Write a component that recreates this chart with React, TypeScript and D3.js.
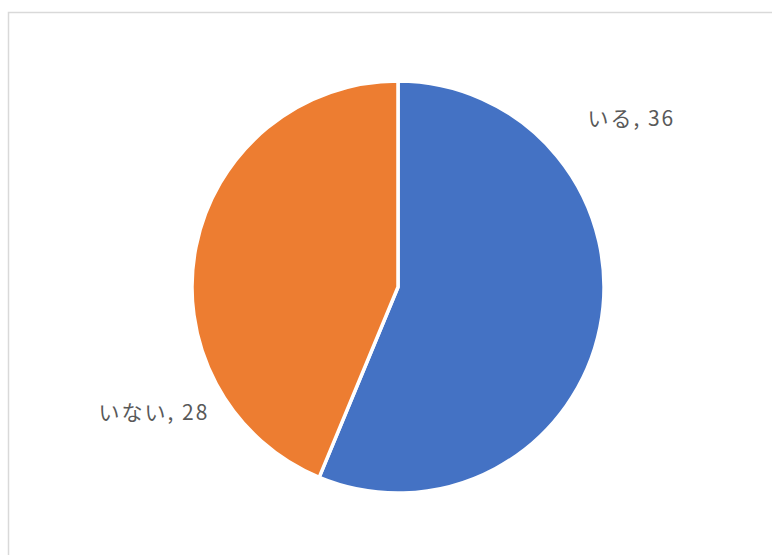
import React from "react";
import * as d3 from "d3";

const categories = ["いる", "いない"];
const values = [36, 28];
const colors = ["#4472C4", "#ED7D31"];
// label placement: angle (deg, clockwise from top) and distance factor relative to radius
const labelAngles = [54, 243];
const labelDist = [1.4, 1.33];

export default function App() {
  const W = 772;
  const H = 555;
  const cx = 398;
  const cy = 287;
  const r = 206;

  const pie = d3.pie<number>().sort(null).value((d) => d)(values);
  const arc = d3.arc<d3.PieArcDatum<number>>().innerRadius(0).outerRadius(r);

  return (
    <svg
      width={W}
      height={H}
      style={{ position: "absolute", left: 0, top: 0, background: "#fff" }}
      fontFamily="'Noto Sans CJK JP', 'Noto Sans', sans-serif"
    >
      <rect x={8.5} y={12.5} width={W} height={H} fill="#fff" stroke="#d9d9d9" strokeWidth={1.5} />
      <g transform={`translate(${cx},${cy})`}>
        {pie.map((p, i) => (
          <path key={i} d={arc(p) || ""} fill={colors[i]} stroke="#fff" strokeWidth={3.5} strokeLinejoin="round" />
        ))}
        {pie.map((p, i) => {
          const a = (labelAngles[i] * Math.PI) / 180;
          const d = r * labelDist[i];
          const x = Math.sin(a) * d;
          const y = -Math.cos(a) * d;
          return (
            <text
              key={"t" + i}
              x={x}
              y={y}
              textAnchor="middle"
              dominantBaseline="central"
              fontSize={21}
              letterSpacing={2}
              fill="#595959"
            >
              {`${categories[i]}, ${values[i]}`}
            </text>
          );
        })}
      </g>
    </svg>
  );
}
